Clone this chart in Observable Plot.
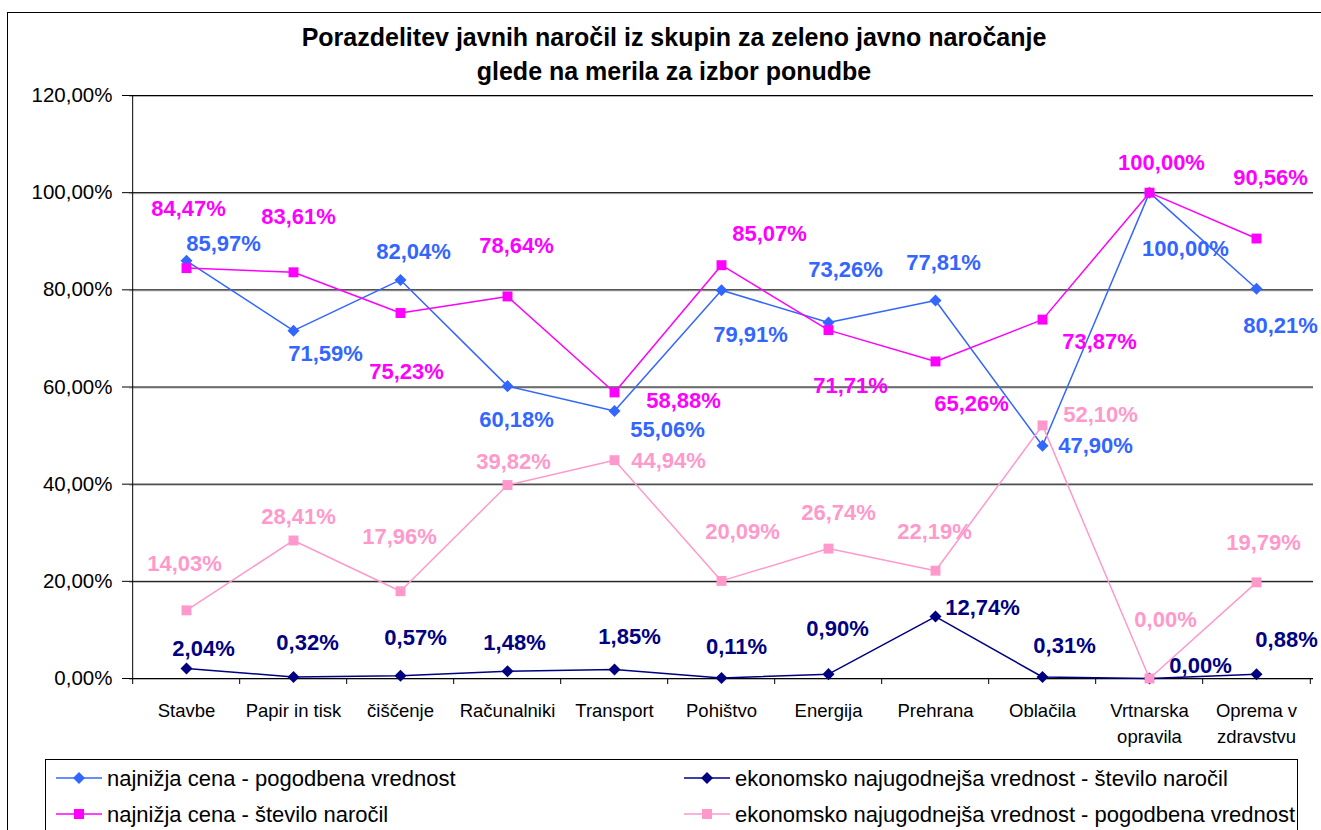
<!DOCTYPE html>
<html><head><meta charset="utf-8">
<script src="https://cdn.jsdelivr.net/npm/d3@7"></script>
<script src="https://cdn.jsdelivr.net/npm/@observablehq/plot@0.6"></script>
<style>
html,body{margin:0;padding:0;background:#fff;overflow:hidden;}
#chart{position:relative;width:1321px;height:830px;font-family:"Liberation Sans",Arial,sans-serif;}
#title{position:absolute;left:174px;width:1000px;top:20px;text-align:center;font-weight:bold;font-size:25px;line-height:34px;color:#000;}
#border{position:absolute;left:7px;top:12px;width:1400px;height:900px;border:1.5px solid #000;box-sizing:border-box;pointer-events:none;}
#legend{position:absolute;left:45px;top:759px;width:1253px;height:100px;border:1px solid #000;box-sizing:border-box;background:#fff;}
#plot{position:absolute;left:0;top:0;}
</style></head>
<body><div id="chart"><div id="plot"></div><div id="title">Porazdelitev javnih naročil iz skupin za zeleno javno naročanje<br>glede na merila za izbor ponudbe</div><div id="legend"></div><div id="border"></div></div>
<script>
// ---- data ----
const categories = ["Stavbe","Papir in tisk","čiščenje","Računalniki","Transport","Pohištvo","Energija","Prehrana","Oblačila","Vrtnarska opravila","Oprema v zdravstvu"];
const categoryLabels = ["Stavbe","Papir in tisk","čiščenje","Računalniki","Transport","Pohištvo","Energija","Prehrana","Oblačila","Vrtnarska\nopravila","Oprema v\nzdravstvu"];
const yTicks = [0, 20, 40, 60, 80, 100, 120];
const seriesNames = [
  "najnižja cena - pogodbena vrednost",
  "ekonomsko najugodnejša vrednost - število naročil",
  "najnižja cena - število naročil",
  "ekonomsko najugodnejša vrednost - pogodbena vrednost"
];
const najnizjaCenaPogodbena = [85.97, 71.59, 82.04, 60.18, 55.06, 79.91, 73.26, 77.81, 47.90, 100.00, 80.21];
const ekonomskoStevilo = [2.04, 0.32, 0.57, 1.48, 1.85, 0.11, 0.90, 12.74, 0.31, 0.00, 0.88];
const najnizjaCenaStevilo = [84.47, 83.61, 75.23, 78.64, 58.88, 85.07, 71.71, 65.26, 73.87, 100.00, 90.56];
const ekonomskoPogodbena = [14.03, 28.41, 17.96, 39.82, 44.94, 20.09, 26.74, 22.19, 52.10, 0.00, 19.79];

// ---- layout / style ----
const seriesColors = ["#3366FF", "#000080", "#FF00FF", "#FF99CC"];
const seriesDiamond = [true, true, false, false];
// label nudges (px) relative to each point, as placed in the original
const labelOffsets = [
  [[37,-17],[32,23],[13,-28],[9,34],[53,19],[29,45],[17,-53],[8,-38],[53,0],[36,56],[24,37]],
  [[17,-20],[14,-34],[15,-38],[7,-28],[15,-33],[15,-31],[9,-45],[47,-9],[22,-31],[51,-13],[30,-34]],
  [[2,-59],[5,-55],[6,59],[9,-50],[69,9],[48,-31],[22,56],[36,43],[57,22],[12,-30],[14,-61]],
  [[-2,-46],[5,-24],[-1,-54],[6,-23],[54,1],[21,-49],[10,-36],[-1,-39],[58,-10],[16,-59],[7,-39]]
];
const W = 1321, H = 760, ML = 129, MR = 8, MT = 95, MB = 82;
const step = (W - ML - MR) / categories.length;
const fmt = v => v.toFixed(2).replace(".", ",") + "%";

const seriesValues = [najnizjaCenaPogodbena, ekonomskoStevilo, najnizjaCenaStevilo, ekonomskoPogodbena];

const marks = [
  Plot.ruleY(yTicks, {stroke: "#b4b4b4", dy: 1}),
  Plot.ruleY(yTicks, {stroke: "#000"}),
  Plot.ruleX([categories[0]], {y1: 0, y2: 120, dx: -step / 2, stroke: "#000"}),
  Plot.ruleX(categories, {y1: 0, y2: 0, dx: -step / 2, insetBottom: -6, stroke: "#000"}),
  Plot.ruleX([categories[categories.length - 1]], {y1: 0, y2: 0, dx: step / 2, insetBottom: -6, stroke: "#000"}),
  Plot.axisY(yTicks, {tickSize: 7, tickPadding: 10, tickFormat: fmt, fontSize: 20.5, label: null}),
  Plot.axisX(categories, {tickSize: 0, tickPadding: 20, tickFormat: d => categoryLabels[categories.indexOf(d)], fontSize: 18.5, lineHeight: 1.4, label: null})
];

const rowsBySeries = seriesValues.map(vals => categories.map((c, i) => ({category: c, value: vals[i]})));

rowsBySeries.forEach((rows, s) => {
  marks.push(Plot.line(rows, {x: "category", y: "value", stroke: seriesColors[s], strokeWidth: 1.5}));
  marks.push(Plot.dot(rows, {x: "category", y: "value", symbol: "square",
    r: seriesDiamond[s] ? 4.8 : 5.6, rotate: seriesDiamond[s] ? 45 : 0, fill: seriesColors[s]}));
});
rowsBySeries.forEach((rows, s) => {
  rows.forEach((r, i) => {
    marks.push(Plot.text([r], {x: "category", y: "value", text: d => fmt(d.value),
      dx: labelOffsets[s][i][0], dy: labelOffsets[s][i][1],
      fill: seriesColors[s], fontSize: 22, fontWeight: "bold"}));
  });
});

const chart = Plot.plot({
  width: W, height: H,
  marginLeft: ML, marginRight: MR, marginTop: MT, marginBottom: MB,
  x: {type: "point", domain: categories, padding: 0.5, axis: null},
  y: {domain: [0, 120], axis: null},
  style: {fontFamily: "'Liberation Sans', Arial, sans-serif", background: "transparent", overflow: "visible", color: "#000"},
  marks
});
document.getElementById("plot").appendChild(chart);

// ---- legend ----
const leg = d3.select("#legend").append("svg").attr("width", 1251).attr("height", 98)
  .style("position", "absolute").style("left", "0px").style("top", "0px")
  .style("font-family", "'Liberation Sans', Arial, sans-serif");
const legendPos = [[10, 18], [638, 18], [10, 54], [638, 54]];
seriesNames.forEach((name, s) => {
  const [x, y] = legendPos[s];
  const g = leg.append("g").attr("transform", `translate(${x},${y})`);
  g.append("line").attr("x1", 0).attr("x2", 46).attr("y1", 0).attr("y2", 0)
    .attr("stroke", seriesColors[s]).attr("stroke-width", 1.5);
  if (seriesDiamond[s]) {
    g.append("path").attr("d", "M23,-6L29,0L23,6L17,0Z").attr("fill", seriesColors[s]);
  } else {
    g.append("rect").attr("x", 18).attr("y", -5).attr("width", 10).attr("height", 10).attr("fill", seriesColors[s]);
  }
  g.append("text").attr("x", 51).attr("y", 0).attr("dy", "0.35em")
    .attr("font-size", 22).attr("fill", "#000").text(name);
});
</script>
</body></html>
